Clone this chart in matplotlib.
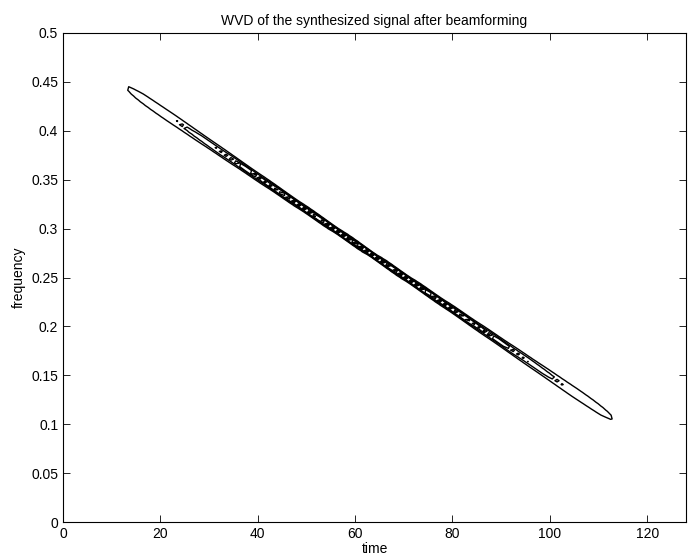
import numpy as np
import matplotlib
matplotlib.use("Agg")
import matplotlib.pyplot as plt
from matplotlib.ticker import FuncFormatter

# signal: linear chirp
n_samples = 128
f_start = 0.49      # frequency at first sample
f_end = 0.06        # frequency at last sample
levels_frac = [0.22, 0.37, 0.48, 0.58, 0.68, 0.78, 0.87, 0.95]   # contour levels, fraction of max

xticks = [0, 20, 40, 60, 80, 100, 120]
yticks = [0, 0.05, 0.1, 0.15, 0.2, 0.25, 0.3, 0.35, 0.4, 0.45, 0.5]

# synthesize the chirp
n = np.arange(n_samples)
rate = (f_end - f_start) / (n_samples - 1)
x = np.exp(2j * np.pi * (f_start * n + 0.5 * rate * n ** 2))

# Wigner-Ville distribution (same scheme as tfrwv)
N = n_samples
tfr = np.zeros((N, N), dtype=complex)
for ti in range(N):
    taumax = min(ti, N - 1 - ti, N // 2 - 1)
    tau = np.arange(-taumax, taumax + 1)
    tfr[(N + tau) % N, ti] = x[ti + tau] * np.conj(x[ti - tau])
    tau = N // 2
    if ti + tau <= N - 1 and ti - tau >= 0:
        tfr[tau, ti] = 0.5 * (x[ti + tau] * np.conj(x[ti - tau]) + x[ti - tau] * np.conj(x[ti + tau]))
tfr = np.real(np.fft.fft(tfr, axis=0))

t = n - 0.5
freq = np.arange(N) / (2.0 * N)
levels = np.array(levels_frac) * tfr.max()

plt.rcParams['font.family'] = ['Liberation Sans', 'DejaVu Sans']
fig = plt.figure(figsize=(6.9, 5.59), dpi=100)
ax = fig.add_axes([0.0913, 0.066, 0.903, 0.875])
ax.contour(t, freq, tfr, levels=levels, colors='k', linewidths=1.0, linestyles='solid')

ax.set_xlim(0, 128)
ax.set_ylim(0, 0.5)
ax.set_xticks(xticks)
ax.set_yticks(yticks)
ax.yaxis.set_major_formatter(FuncFormatter(lambda v, p: '%g' % v))
ax.tick_params(direction='in', top=True, right=True, labelsize=10, length=5, width=0.6)
for s in ax.spines.values():
    s.set_linewidth(0.8)
ax.set_xlabel('time', fontsize=10, labelpad=1)
ax.set_ylabel('frequency', fontsize=10, labelpad=4)
ax.set_title('WVD of the synthesized signal after beamforming', fontsize=10, pad=6)

fig.savefig('out.png', dpi=100)
